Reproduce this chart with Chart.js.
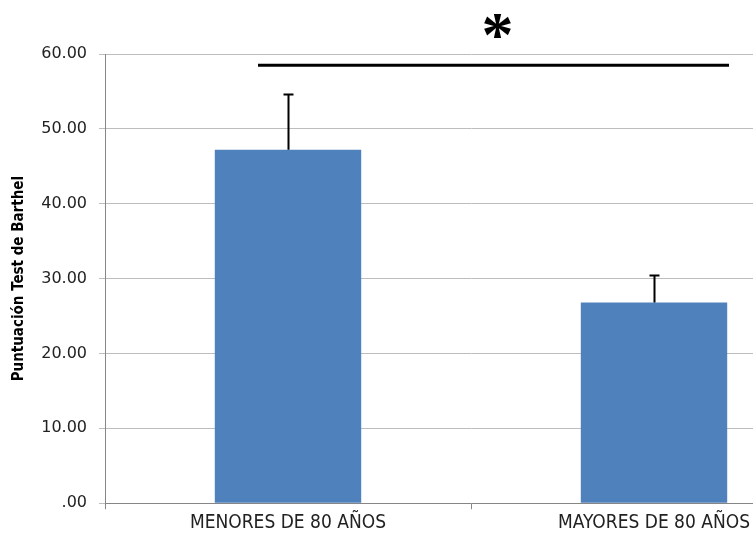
<!DOCTYPE html>
<html>
<head>
<meta charset="utf-8">
<script src="https://cdn.jsdelivr.net/npm/chart.js@4"></script>
<style>
  html, body { margin: 0; padding: 0; background: #fff; overflow: hidden; }
  #wrap { position: relative; width: 840px; height: 536px; }
</style>
</head>
<body>
<div id="wrap"><canvas id="c" width="840" height="536"></canvas></div>
<script>
// Barthel index score by age group (mean with upper error bar)
const categories = ['MENORES DE 80 AÑOS', 'MAYORES DE 80 AÑOS'];
const means = [47.2, 26.8];
const errorTops = [54.6, 30.4];
const yTicks = [0, 10, 20, 30, 40, 50, 60];
const significanceLevel = 58.5;
const significanceMark = '*';
const yTitle = 'Puntuación Test de Barthel';

const narrowFont = '"Liberation Sans Narrow", "DejaVu Sans Condensed", "Liberation Sans", sans-serif';

const overlayPlugin = {
  id: 'overlay',
  afterDatasetsDraw(chart) {
    const ctx = chart.ctx;
    const x = chart.scales.x, y = chart.scales.y;
    const meta = chart.getDatasetMeta(0);
    ctx.save();
    // error bars (upper only)
    ctx.strokeStyle = '#000';
    ctx.lineWidth = 2;
    meta.data.forEach((bar, i) => {
      const px = Math.round(bar.x) + 0.5;
      const top = y.getPixelForValue(errorTops[i]);
      ctx.beginPath();
      ctx.moveTo(px, bar.y);
      ctx.lineTo(px, top);
      ctx.moveTo(px - 5, top);
      ctx.lineTo(px + 5, top);
      ctx.stroke();
    });
    // significance line and mark
    const ly = y.getPixelForValue(significanceLevel);
    const x1 = x.getPixelForValue(-0.082);
    const x2 = x.getPixelForValue(1.205);
    ctx.lineWidth = 3;
    ctx.beginPath();
    ctx.moveTo(x1, ly);
    ctx.lineTo(x2, ly);
    ctx.stroke();
    ctx.fillStyle = '#000';
    ctx.font = 'bold 64px "Liberation Serif", "DejaVu Serif", serif';
    ctx.textAlign = 'center';
    ctx.textBaseline = 'middle';
    ctx.fillText(significanceMark, (x1 + x2) / 2 + 4, ly - 26);
    ctx.restore();
  }
};

new Chart(document.getElementById('c'), {
  type: 'bar',
  data: {
    labels: categories,
    datasets: [{
      data: means,
      backgroundColor: '#4f81bd',
      borderWidth: 0,
      barPercentage: 0.4,
      categoryPercentage: 1.0
    }]
  },
  options: {
    responsive: false,
    animation: false,
    devicePixelRatio: 1,
    layout: { padding: { top: 54, right: 3, bottom: 0, left: 10 } },
    plugins: { legend: { display: false }, tooltip: { enabled: false } },
    scales: {
      x: {
        grid: {
          display: true,
          offset: true,
          drawOnChartArea: false,
          drawTicks: true,
          tickLength: 6,
          color: '#868686'
        },
        border: { color: '#868686', width: 1 },
        ticks: {
          color: '#222',
          font: { family: narrowFont, size: 19 },
          padding: 2
        }
      },
      y: {
        min: 0,
        max: 60,
        afterBuildTicks(axis) { axis.ticks = yTicks.map(v => ({ value: v })); },
        afterFit(axis) { axis.width = 95; },
        grid: { color: '#bdbdbd', tickLength: 6, lineWidth: 1 },
        border: { color: '#868686', width: 1 },
        ticks: {
          color: '#222',
          font: { family: '"DejaVu Sans", sans-serif', size: 16 },
          padding: 12,
          callback: v => v === 0 ? '.00' : v.toFixed(2)
        },
        title: {
          display: true,
          text: yTitle,
          color: '#000',
          font: { family: narrowFont, size: 15, weight: 'bold' },
          padding: { top: 0, bottom: 4 }
        }
      }
    }
  },
  plugins: [overlayPlugin]
});
</script>
</body>
</html>
